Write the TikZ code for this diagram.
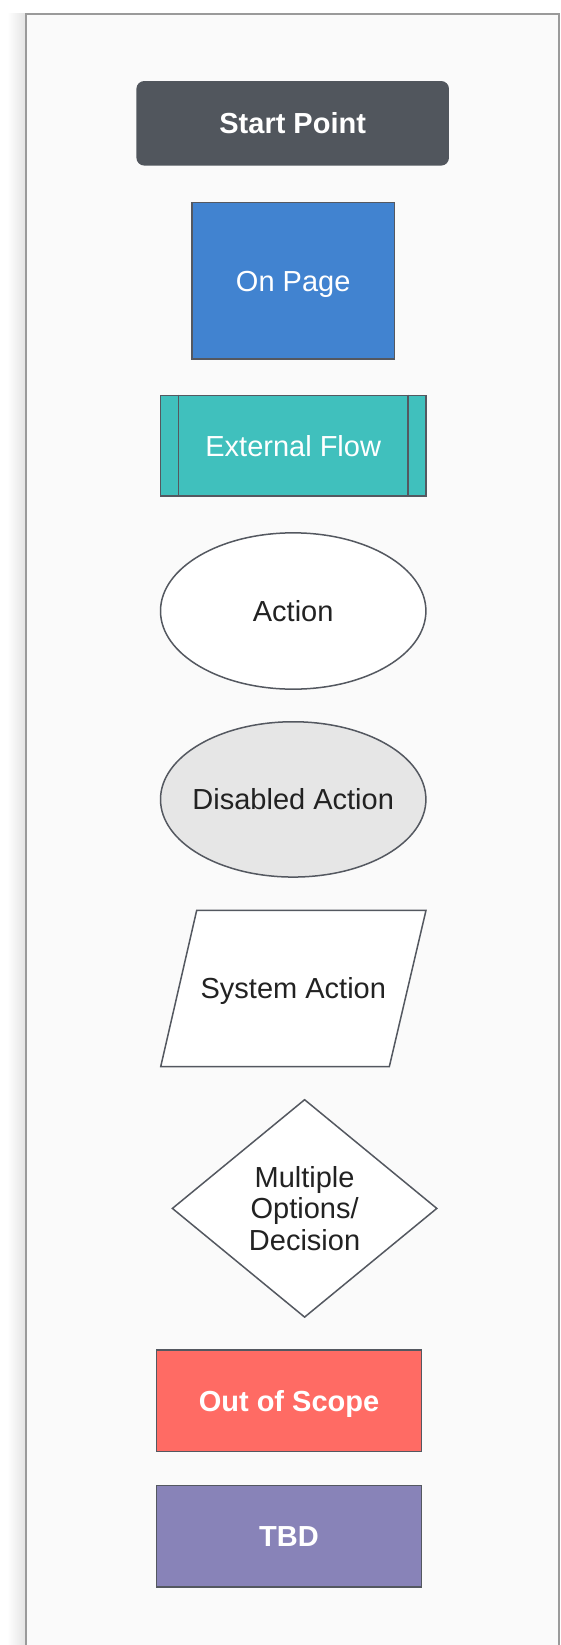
\documentclass[tikz,border=0pt]{standalone}
\usepackage{fontspec}
\setmainfont{Liberation Sans}
\usepackage{tikz}
\usetikzlibrary{shapes.geometric}
\definecolor{panelbg}{HTML}{FAFAFA}
\definecolor{frameline}{HTML}{9A9A9A}
\definecolor{edge}{HTML}{545860}
\definecolor{ink}{HTML}{222222}
\definecolor{startgray}{HTML}{51565D}
\definecolor{pageblue}{HTML}{4183D0}
\definecolor{flowteal}{HTML}{40C0BD}
\definecolor{offgray}{HTML}{E6E6E6}
\definecolor{scopered}{HTML}{FF6B64}
\definecolor{tbdpurple}{HTML}{8883B8}
\tikzset{>=latex,
  shp/.style={draw=edge, line width=1.5pt, inner sep=0pt, text=ink, font=\fontsize{29}{31.7}\selectfont},
  oneline/.style={text height=20.8pt, text depth=0pt},
  boxshp/.style={shp, oneline, rectangle, minimum width=265.4pt, minimum height=101.5pt},
  ovalshp/.style={shp, oneline, ellipse, fill=white, minimum width=265.4pt, minimum height=156.3pt},
  boldtxt/.style={text=white, font=\fontsize{29}{31.7}\selectfont\bfseries}}

\begin{document}
\begin{tikzpicture}[x=1pt, y=-1pt]
    \useasboundingbox(0, 0)rectangle(561, 1645);
    \fill[white](0, 0)rectangle(561, 1645);
    \shade[left color=white, right color=black!11](7, 14)rectangle(26, 1645);
    \fill[panelbg](26, 14)rectangle(559, 1645);
    \draw[frameline, line width=2pt](26, 1650)--(26, 14)--(559, 14)--(559, 1650);
    \node[shp, oneline, rectangle, rounded corners=7pt, fill=startgray, draw=startgray, minimum width=311pt, minimum height=83pt, boldtxt](start)at(292.7, 123.3){Start Point};
    \node[shp, oneline, rectangle, fill=pageblue, text=white, minimum width=202.4pt, minimum height=156.3pt](onpage)at(293.2, 280.6){On Page};
    \node[boxshp, fill=flowteal, text=white, minimum height=100.7pt](extflow)at(293.2, 445.8){External Flow};
    \draw[edge, line width=1.5pt]([xshift=18.9pt]extflow.north west)--([xshift=18.9pt]extflow.south west);
    \draw[edge, line width=1.5pt]([xshift=-18.9pt]extflow.north east)--([xshift=-18.9pt]extflow.south east);
    \node[ovalshp](action)at(293.2, 611){Action};
    \node[ovalshp, fill=offgray, minimum height=155.3pt](disabled)at(293.2, 799.4){\makebox[120pt]{Disabled Action}};
    \draw[shp, fill=white](196.7, 910.3)--(426, 910.3)--(389.3, 1066.7)--(160.7, 1066.7)--cycle;
    \node[shp, oneline, draw=none](sysaction)at(293.3, 988.5){System Action};
    \node[shp, diamond, fill=white, aspect=1.21, minimum width=265pt, minimum height=218pt, align=center](decision)at(304.6, 1208.4){Multiple\\Options/\\Decision};
    \node[boxshp, fill=scopered, boldtxt](outscope)at(289, 1400.9){Out of Scope};
    \node[boxshp, fill=tbdpurple, boldtxt](tbd)at(289, 1536.3){TBD};
\end{tikzpicture}
\end{document}
